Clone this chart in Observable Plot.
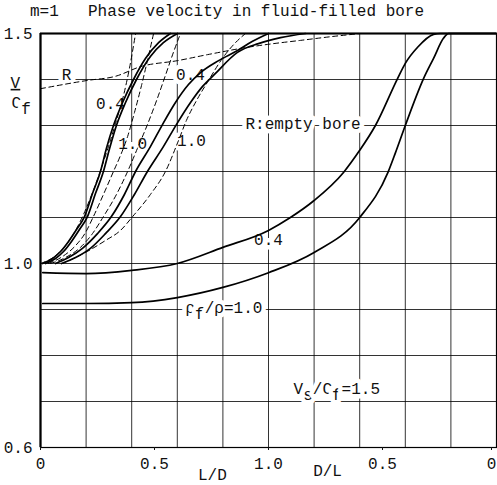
<!DOCTYPE html>
<html><head><meta charset="utf-8">
<script src="https://cdn.jsdelivr.net/npm/d3@7"></script>
<script src="https://cdn.jsdelivr.net/npm/@observablehq/plot@0.6"></script>
<style>
body{margin:0;background:#fff;font-family:"Liberation Mono",monospace;}
#title{position:relative;height:20px;width:497px;font-size:16px;color:#111;}
#title span{position:absolute;top:3px;white-space:pre;line-height:18px;}
</style></head><body>
<div id="title"><span style="left:30px">m=1</span><span style="left:88px">Phase velocity in fluid-filled bore</span></div>
<div id="chart"></div>
<script>
// Horizontal position: 0..1 = L/D, 1..2 = (2 - D/L)
const xTicks = [0, 0.5, 1, 1.5];
const xTickLabels = ["0", "0.5", "1.0", "0.5"];
const xEndTick = [2];
const xEndLabel = ["0"];
const yTicks = [0.6, 1.0, 1.5];
const yTickLabels = ["0.6", "1.0", "1.5"];
const xGrid = [0, 0.2, 0.4, 0.6, 0.8, 1.0, 1.2, 1.4, 1.6, 1.8, 2.0];
const yGrid = [0.6, 0.7, 0.8, 0.9, 1.0, 1.1, 1.2, 1.3, 1.4, 1.5];

// solid curves (fluid-filled bore), [position, V/Cf]
const fast04 = [[0.009,1.0],[0.053,1.011],[0.088,1.026],[0.123,1.048],[0.158,1.074],[0.193,1.102],[0.228,1.152],[0.263,1.2],[0.289,1.25],[0.32,1.3],[0.36,1.35],[0.408,1.4],[0.461,1.446],[0.518,1.48],[0.57,1.5]];
const fast10 = [[0.022,1.0],[0.066,1.011],[0.101,1.026],[0.136,1.048],[0.171,1.074],[0.206,1.102],[0.241,1.152],[0.276,1.2],[0.303,1.25],[0.333,1.3],[0.373,1.35],[0.421,1.4],[0.482,1.45],[0.539,1.48],[0.601,1.5]];
const mid04 = [[0.066,1.0],[0.123,1.013],[0.184,1.033],[0.25,1.065],[0.311,1.102],[0.368,1.15],[0.417,1.2],[0.482,1.254],[0.535,1.302],[0.592,1.35],[0.649,1.389],[0.702,1.415],[0.781,1.441],[0.864,1.463],[0.93,1.483],[1.0,1.5]];
const mid10 = [[0.092,1.0],[0.154,1.013],[0.219,1.033],[0.285,1.065],[0.351,1.102],[0.412,1.15],[0.469,1.2],[0.539,1.254],[0.596,1.302],[0.658,1.35],[0.711,1.385],[0.763,1.411],[0.864,1.459],[0.956,1.478],[1.053,1.491],[1.162,1.5]];
const slow04 = [[0.01,0.98],[0.2,0.978],[0.4,0.985],[0.6,1.0],[0.8,1.035],[1.0,1.072],[1.096,1.1],[1.2,1.137],[1.329,1.198],[1.4,1.246],[1.469,1.3],[1.566,1.402],[1.6,1.435],[1.654,1.47],[1.724,1.498],[1.754,1.5],[2.0,1.5]];
const slow10 = [[0.01,0.913],[0.2,0.913],[0.4,0.915],[0.6,0.926],[0.8,0.948],[1.0,0.98],[1.2,1.024],[1.4,1.1],[1.524,1.198],[1.557,1.241],[1.6,1.3],[1.68,1.402],[1.724,1.446],[1.768,1.49],[1.79,1.5],[2.0,1.5]];

// dashed curves (R: empty bore)
const fastR1 = [[0,1.0],[0.061,1.015],[0.11,1.039],[0.154,1.072],[0.189,1.107],[0.228,1.154],[0.263,1.202],[0.298,1.254],[0.333,1.311],[0.364,1.365],[0.39,1.424],[0.417,1.5]];
const fastR2 = [[0.035,1.0],[0.096,1.015],[0.154,1.039],[0.197,1.067],[0.232,1.102],[0.276,1.15],[0.32,1.2],[0.351,1.235],[0.382,1.276],[0.412,1.328],[0.443,1.387],[0.469,1.441],[0.496,1.5]];
const midR1 = [[0.044,1.0],[0.11,1.013],[0.175,1.035],[0.228,1.065],[0.276,1.102],[0.333,1.15],[0.382,1.2],[0.425,1.25],[0.469,1.302],[0.509,1.354],[0.548,1.409],[0.583,1.459],[0.614,1.5]];
const midR2 = [[0.096,1.0],[0.197,1.024],[0.285,1.05],[0.351,1.072],[0.404,1.102],[0.482,1.15],[0.548,1.2],[0.605,1.267],[0.64,1.311],[0.684,1.354],[0.737,1.398],[0.798,1.446],[0.855,1.48],[0.899,1.5]];
const emptyR = [[0,1.38],[0.206,1.398],[0.329,1.407],[0.439,1.428],[0.601,1.441],[0.732,1.454],[0.908,1.47],[1.022,1.478],[1.14,1.485],[1.272,1.493],[1.404,1.5]];

// annotations
const midText = ["R", "0.4", "1.0", "0.4", "1.0", "0.4", "L/D", "D/L"];
const midU = [0.114, 0.307, 0.404, 0.658, 0.662, 1.0, 0.754, 1.259];
const midV = [1.411, 1.348, 1.261, 1.409, 1.267, 1.052, 0.541, 0.55];
const startText = ["R:empty bore", "ρ_f/ρ=1.0", "V_s/C_f=1.5", "C_f"];
const startU = [0.899, 0.636, 1.11, -0.127];
const startV = [1.304, 0.904, 0.728, 1.35];
const yNameTop = ["V"];
const yNameU = [-0.11];
const yNameV = [1.393];

const toRows = (obj) => Object.entries(obj).flatMap(([k, pts]) => pts.map(([u, v]) => ({curve: k, u, v})));
const solidData = toRows({fast04, fast10, mid04, mid10, slow04, slow10});
const dashedData = toRows({fastR1, fastR2, midR1, midR2, emptyR});
const midLabels = midText.map((t, i) => ({t, u: midU[i], v: midV[i]}));
const startLabels = startText.map((t, i) => ({t, u: startU[i], v: startV[i]}));
const yName = yNameTop.map((t, i) => ({t, u: yNameU[i], v: yNameV[i]}));

const halo = {stroke: "white", strokeWidth: 9, fill: "#111", fontSize: 16};

const chart = Plot.plot({
  width: 497, height: 465,
  marginTop: 13, marginBottom: 38, marginLeft: 40, marginRight: 1,
  style: {fontFamily: '"Liberation Mono", monospace', fontSize: "16px", background: "#fff", color: "#111"},
  x: {domain: [0, 2], axis: null, label: null},
  y: {domain: [0.6, 1.5], axis: null, label: null},
  marks: [
    Plot.gridX(xGrid, {stroke: "#000", strokeOpacity: 0.8, strokeWidth: 1}),
    Plot.gridY(yGrid, {stroke: "#000", strokeOpacity: 0.8, strokeWidth: 1}),
    Plot.text(midLabels, {x: "u", y: "v", text: "t", textAnchor: "middle", ...halo}),
    Plot.text(startLabels, {x: "u", y: "v", text: "t", textAnchor: "start", ...halo}),
    Plot.text(yName, {x: "u", y: "v", text: "t", textAnchor: "middle", fill: "#111", fontSize: 16, className: "ybar"}),
    Plot.line(dashedData, {x: "u", y: "v", z: "curve", curve: "monotone-x", stroke: "#000", strokeWidth: 1, strokeDasharray: "5,3.5"}),
    Plot.line(solidData, {x: "u", y: "v", z: "curve", curve: "monotone-x", stroke: "#000", strokeWidth: 1.7}),
    Plot.frame({stroke: "#000", strokeWidth: 1.2}),
    Plot.ruleX([0], {stroke: "#000", strokeWidth: 2.2}),
    Plot.ruleY([1.5], {stroke: "#000", strokeWidth: 2.2}),
    Plot.axisX(xTicks, {tickFormat: d => xTickLabels[xTicks.indexOf(d)], tickSize: 3, tickPadding: 7, fontSize: 16, label: null}),
    Plot.axisX(xEndTick, {tickFormat: d => xEndLabel[xEndTick.indexOf(d)], tickSize: 3, tickPadding: 7, fontSize: 16, label: null, dx: -5}),
    Plot.axisY(yTicks, {tickFormat: d => yTickLabels[yTicks.indexOf(d)], tickSize: 0, tickPadding: 8, fontSize: 16, label: null})
  ]
});

// subscripts (_x) as tspans
d3.select(chart).selectAll("text").each(function () {
  const s = this.textContent;
  if (!/_/.test(s) || this.querySelector("tspan")) return;
  this.textContent = "";
  let low = false, buf = "";
  const add = (dy, txt) => {
    const t = document.createElementNS("http://www.w3.org/2000/svg", "tspan");
    if (dy) t.setAttribute("dy", dy);
    t.textContent = txt;
    this.appendChild(t);
  };
  for (let i = 0; i < s.length; i++) {
    const c = s[i];
    if (c === "_") {
      if (buf) { add(low ? "-0.4em" : null, buf); low = false; buf = ""; }
      add("0.4em", s[++i]); low = true;
    } else buf += c;
  }
  if (buf) add(low ? "-0.4em" : null, buf);
});
// fraction bar under V of the axis name
d3.select(chart).selectAll("g.ybar text").attr("text-decoration", "underline").style("text-decoration", "underline");

document.getElementById("chart").appendChild(chart);
</script></body></html>
